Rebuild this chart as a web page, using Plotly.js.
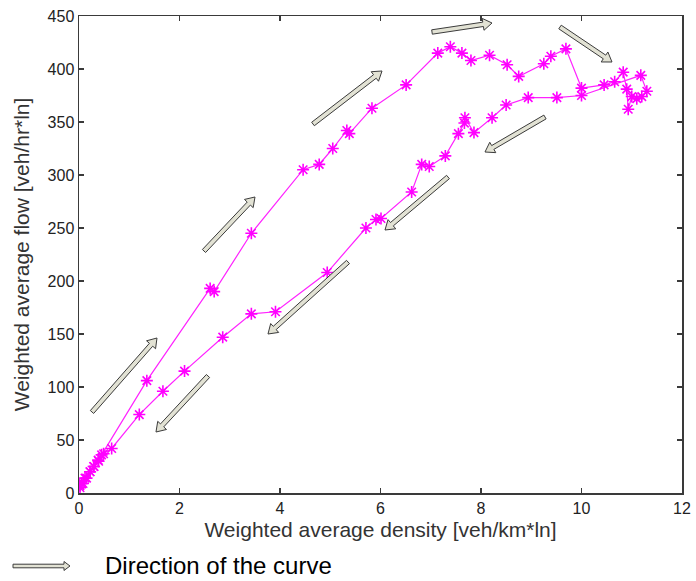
<!DOCTYPE html>
<html><head><meta charset="utf-8">
<script src="https://cdn.plot.ly/plotly-3.0.1.min.js"></script>
<style>html,body{margin:0;padding:0;background:#fff}#c{width:696px;height:581px}</style>
</head><body><div id="c"></div>
<script>
// Loading branch (density increasing)
const upDensity = [0.02,0.08,0.15,0.22,0.30,0.38,0.45,1.35,2.61,2.69,3.43,4.46,4.78,5.05,5.33,5.38,5.83,6.51,7.14,7.39,7.62,7.80,8.17,8.52,8.75,9.25,9.39,9.69,10.00,10.45,10.66,10.83,10.90,10.93,11.00,11.10,11.20,11.30,11.18];
const upFlow    = [5,9,14,20,25,31,36,106,193,190,245,305,310,325,342,339,363,385,415,421,415,408,413,404,393,405,412,419,382,385,388,397,381,362,374,372,374,379,394];
// Unloading branch (density decreasing)
const downDensity = [10.00,9.51,8.94,8.50,8.22,7.86,7.68,7.67,7.55,7.29,6.97,6.82,6.62,6.01,5.91,5.71,4.94,3.91,3.43,2.86,2.10,1.67,1.20,0.65,0.49,0.39,0.29,0.22,0.12,0.05,0.02];
const downFlow    = [375,373,373,366,354,340,354,349,339,318,308,310,284,259,258,250,208,171,169,147,115,96,74,42,37,30,25,20,14,9,7];

const xTicks = [0,2,4,6,8,10,12];
const yTicks = [0,50,100,150,200,250,300,350,400,450];

const W=696,H=581, M={l:79,r:14,t:16,b:88};
const PW=W-M.l-M.r, PH=H-M.t-M.b;
// direction arrows (pixel tail -> head)
const arrows = [
  [92,412,157,338],[204,251,255,197],[313,124,382,71],[432,32,492,23],
  [560,27,612,62],[545,117,485,152],[448,177,385,230],[348,262,268,334],[208,376,156,432]
];
const legendArrow = [13,566,70,566];
function toPaper(px,py){return [(px-M.l)/PW,(M.t+PH-py)/PH];}
function blockArrow(a,sw,hw,hl){
  const [x0,y0,x1,y1]=a; const dx=x1-x0,dy=y1-y0,L=Math.hypot(dx,dy);
  const ux=dx/L,uy=dy/L,nx=-uy,ny=ux;
  const bx=x1-ux*hl,by=y1-uy*hl;
  const pts=[[x0+nx*sw,y0+ny*sw],[bx+nx*sw,by+ny*sw],[bx+nx*hw,by+ny*hw],[x1,y1],
             [bx-nx*hw,by-ny*hw],[bx-nx*sw,by-ny*sw],[x0-nx*sw,y0-ny*sw]];
  const p=pts.map(q=>toPaper(q[0],q[1]));
  return {type:'path',xref:'paper',yref:'paper',
    path:'M'+p.map(q=>q[0].toFixed(5)+','+q[1].toFixed(5)).join('L')+'Z',
    fillcolor:'#e2e2d4',line:{color:'#3c3c3c',width:1}};
}
const shapes = arrows.map(a=>blockArrow(a,2.2,6,9)).concat([blockArrow(legendArrow,1.8,4.5,6)]);

const trace = {
  x: upDensity.concat(downDensity), y: upFlow.concat(downFlow),
  type:'scatter', mode:'lines+markers',
  line:{color:'#ff22ff',width:1.2},
  marker:{symbol:'asterisk-open',size:10,line:{color:'#ff00ff',width:1.6},color:'#ff00ff'},
  hoverinfo:'skip', showlegend:false
};
const font = 'Arial, "Liberation Sans", sans-serif';
const axisCommon = {showline:true,linecolor:'#3a3a3a',linewidth:1.5,mirror:'ticks',ticks:'inside',
  ticklen:5,tickcolor:'#3a3a3a',tickwidth:1.2,showgrid:false,zeroline:false,
  tickfont:{family:font,size:16,color:'#222'}};
const layout = {
  width:W,height:H,margin:M,paper_bgcolor:'#fff',plot_bgcolor:'#fff',
  xaxis:Object.assign({},axisCommon,{range:[0,12],tickvals:xTicks,ticktext:xTicks.map(String),
    title:{text:'Weighted average density [veh/km*ln]',font:{family:font,size:21,color:'#333'},standoff:6}}),
  yaxis:Object.assign({},axisCommon,{range:[0,450],tickvals:yTicks,ticktext:yTicks.map(String),
    title:{text:'Weighted average flow [veh/hr*ln]',font:{family:font,size:21,color:'#333'},standoff:12}}),
  shapes: shapes,
  annotations:[{xref:'paper',yref:'paper',x:toPaper(103,0)[0],y:toPaper(0,565)[1],xanchor:'left',yanchor:'middle',
    text:'Direction of the curve',showarrow:false,font:{family:font,size:24,color:'#000'}}]
};
Plotly.newPlot('c',[trace],layout,{staticPlot:true,displayModeBar:false});
</script></body></html>
